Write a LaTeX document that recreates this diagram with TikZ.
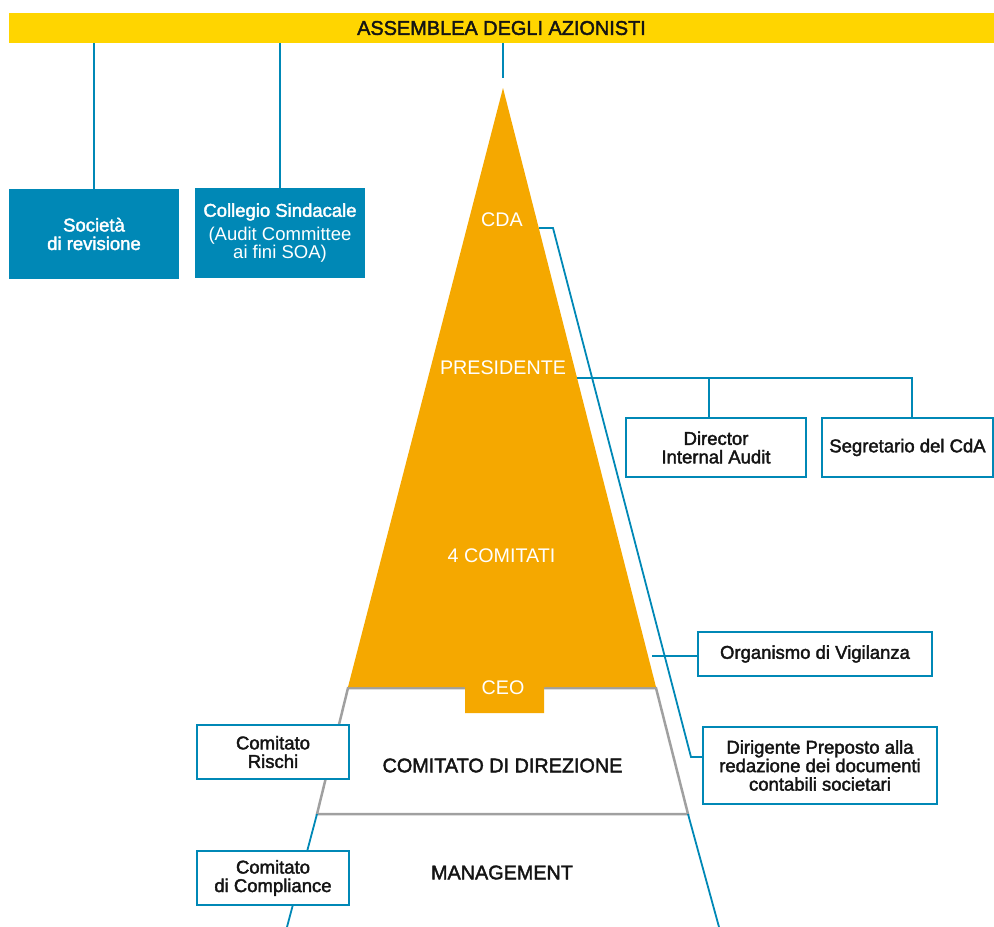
\documentclass[tikz,border=0pt]{standalone}
\usepackage{fontspec}
\setmainfont{Liberation Sans}
\newfontfamily\medfont{Liberation Sans}[FakeBold=2]
\definecolor{cblue}{RGB}{0,136,182}
\definecolor{corange}{RGB}{245,168,0}
\definecolor{cyellow}{RGB}{255,213,0}
\definecolor{cgray}{RGB}{160,160,160}
\definecolor{ctxt}{RGB}{20,20,20}
\begin{document}
\begin{tikzpicture}[x=1pt,y=-1pt,
  bluebox/.style={fill=cblue, draw=none, minimum width=170pt, minimum height=90pt, inner sep=0pt, text=white, align=center, font=\medfont\fontsize{18.5}{18.5}\selectfont},
  outbox/.style={draw=cblue, line width=2pt, fill=white, inner sep=0pt, align=center, text=ctxt, font=\medfont\fontsize{18.5}{18.5}\selectfont},
  pyrlabel/.style={text=white, inner sep=0pt, font=\fontsize{19.7}{20}\selectfont},
  lvllabel/.style={text=ctxt, inner sep=0pt, font=\medfont\fontsize{19.8}{20}\selectfont},
  conn/.style={draw=cblue, line width=1.8pt},
  grayline/.style={draw=cgray, line width=2.5pt, line join=miter}
]
\useasboundingbox (0,0) rectangle (994,927);

% top bar
\node[fill=cyellow, minimum width=985pt, minimum height=30pt, inner sep=0pt, text=ctxt, font=\medfont\fontsize{19.9}{20}\selectfont] (assem) at (501.5,28) {ASSEMBLEA DEGLI AZIONISTI};

% left blue boxes
\node[bluebox] (soc) at (94,234) {Società\\di revisione};
\node[bluebox] (col) at (280,233) {Collegio Sindacale\\[5pt]\normalfont(Audit Committee\\\normalfont ai fini SOA)};

\draw[conn] (assem.south -| soc.north) -- (soc.north);
\draw[conn] (assem.south -| col.north) -- (col.north);
\coordinate (apextop) at (503,78);
\draw[conn] (assem.south -| apextop) -- (apextop);

% gray trapezoid (comitato di direzione level)
\coordinate (gTL) at (348,688);
\coordinate (gTR) at (656,688);
\coordinate (gBL) at (317,814);
\coordinate (gBR) at (688,814);
\draw[grayline] (gTL) -- (gBL) -- (gBR) -- (gTR) -- cycle;

% blue continuation lines (management level)
\coordinate (mBL) at (287,927);
\coordinate (mBR) at (719,927);
\draw[conn] (gBL) -- (mBL);
\draw[conn] (gBR) -- (mBR);

% orange pyramid with CEO tab
\fill[corange] (503,88) -- (656,687) -- (544,687) -- (544,713) -- (465,713) -- (465,687) -- (348,687) -- cycle;

% pyramid labels
\node[pyrlabel] (cda) at (502,220) {CDA};
\node[pyrlabel] (pres) at (503,367.5) {PRESIDENTE};
\node[pyrlabel] (com4) at (501.5,555.5) {4 COMITATI};
\node[pyrlabel] (ceo) at (503,688) {CEO};
\node[lvllabel] (dirz) at (502.5,765.5) {COMITATO DI DIREZIONE};
\node[lvllabel] (mgmt) at (502,872.5) {MANAGEMENT};

% right boxes
\node[outbox, minimum width=180pt, minimum height=59pt] (dir) at (716,447.5) {Director\\Internal Audit};
\node[outbox, minimum width=171pt, minimum height=59pt] (segr) at (907.5,447.5) {Segretario del CdA};
\node[outbox, minimum width=234pt, minimum height=44pt] (org) at (815,654) {Organismo di Vigilanza};
\node[outbox, minimum width=234pt, minimum height=77pt] (dirig) at (820,765.5) {Dirigente Preposto alla\\redazione dei documenti\\contabili societari};

% connectors from pyramid
\coordinate (cdaA) at (539,228);
\coordinate (cdaB) at (553,228);
\coordinate (cdaC) at (691,757);
\draw[conn, line join=miter] (cdaA) -- (cdaB) -- (cdaC) -- (cdaC -| dirig.west);

\coordinate (presA) at (577,378);
\coordinate (dirDrop) at (709,378);
\coordinate (segDrop) at (912,378);
\draw[conn] (presA) -- (segDrop) -- (segDrop |- segr.north);
\draw[conn] (dirDrop) -- (dirDrop |- dir.north);

\coordinate (orgA) at (652,656);
\draw[conn] (orgA) -- (orgA -| org.west);

% left committee boxes
\node[outbox, minimum width=152pt, minimum height=54pt] (risk) at (273,752) {Comitato\\Rischi};
\node[outbox, minimum width=152pt, minimum height=54pt] (compl) at (273,878) {Comitato\\di Compliance};
\end{tikzpicture}
\end{document}
